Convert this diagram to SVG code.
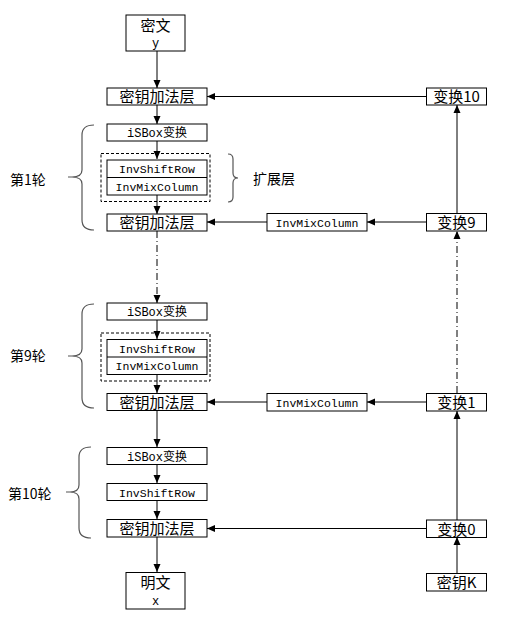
<svg xmlns="http://www.w3.org/2000/svg" width="523" height="624" viewBox="0 0 523 624">
<style>
.box{fill:#fff;stroke:#000;stroke-width:1}
.dash{fill:none;stroke:#000;stroke-width:1;stroke-dasharray:3,2}
.c{fill:none;stroke:#000;stroke-width:1}
.dd{fill:none;stroke:#000;stroke-width:1;stroke-dasharray:7,3,1,3}
.br{fill:none;stroke:#555;stroke-width:1.2}
.zh{font-family:"Noto Sans CJK SC",sans-serif;font-size:15px;fill:#000;text-anchor:middle}
.mx{font-family:"Liberation Mono","Noto Sans CJK SC",monospace;font-size:12px;fill:#000;text-anchor:middle}
.mx2{font-family:"Liberation Mono","Noto Sans CJK SC",monospace;font-size:11.5px;fill:#000;text-anchor:middle}
.lbl{font-family:"Noto Sans CJK SC",sans-serif;font-size:14px;fill:#000}
</style>
<defs>
<marker id="ah" viewBox="0 0 8 8" refX="8" refY="4" markerWidth="8" markerHeight="8" markerUnits="userSpaceOnUse" orient="auto">
<path d="M0,0.5 L8,4 L0,7.5 Z" fill="#000"/>
</marker>
</defs>

<g id="connectors">
<line class="c" x1="157" y1="51" x2="157" y2="88" marker-end="url(#ah)"/>
<line class="c" x1="157" y1="105" x2="157" y2="124" marker-end="url(#ah)"/>
<line class="c" x1="157" y1="141" x2="157" y2="159" marker-end="url(#ah)"/>
<line class="c" x1="157" y1="195" x2="157" y2="214" marker-end="url(#ah)"/>
<line class="dd" x1="157" y1="231" x2="157" y2="303" marker-end="url(#ah)"/>
<line class="c" x1="157" y1="320" x2="157" y2="339" marker-end="url(#ah)"/>
<line class="c" x1="157" y1="375" x2="157" y2="393" marker-end="url(#ah)"/>
<line class="c" x1="157" y1="411" x2="157" y2="447" marker-end="url(#ah)"/>
<line class="c" x1="157" y1="465" x2="157" y2="483" marker-end="url(#ah)"/>
<line class="c" x1="157" y1="501" x2="157" y2="519" marker-end="url(#ah)"/>
<line class="c" x1="157" y1="537" x2="157" y2="572" marker-end="url(#ah)"/>

<line class="c" x1="457" y1="573" x2="457" y2="537" marker-end="url(#ah)"/>
<line class="c" x1="457" y1="520" x2="457" y2="411" marker-end="url(#ah)"/>
<line class="dd" x1="457" y1="393" x2="457" y2="231" marker-end="url(#ah)"/>
<line class="c" x1="457" y1="213" x2="457" y2="105" marker-end="url(#ah)"/>

<line class="c" x1="426" y1="96.5" x2="207" y2="96.5" marker-end="url(#ah)"/>
<line class="c" x1="426" y1="222" x2="367" y2="222" marker-end="url(#ah)"/>
<line class="c" x1="267" y1="222" x2="207" y2="222" marker-end="url(#ah)"/>
<line class="c" x1="426" y1="402" x2="367" y2="402" marker-end="url(#ah)"/>
<line class="c" x1="267" y1="402" x2="207" y2="402" marker-end="url(#ah)"/>
<line class="c" x1="426" y1="528.5" x2="207" y2="528.5" marker-end="url(#ah)"/>
</g>

<g id="ciphertext">
<rect class="box" x="126" y="15" width="59" height="36"/>
<text class="zh" x="155.5" y="31">密文</text>
<text class="mx" x="155.5" y="47">y</text>
</g>

<g id="addkey0">
<rect class="box" x="107" y="88" width="100" height="17"/>
<text class="zh" x="157" y="102">密钥加法层</text>
</g>

<g id="round1-isbox">
<rect class="box" x="107" y="124" width="100" height="17"/>
<text class="mx" x="157" y="137">iSBox变换</text>
</g>
<g id="round1-ext">
<rect class="dash" x="101" y="153.5" width="109" height="48"/>
<rect class="box" x="107" y="160" width="100" height="35"/>
<line class="c" x1="107" y1="177.5" x2="207" y2="177.5"/>
<text class="mx2" x="157" y="173">InvShiftRow</text>
<text class="mx2" x="157" y="190.5">InvMixColumn</text>
</g>
<g id="round1-addkey">
<rect class="box" x="107" y="214" width="100" height="17"/>
<text class="zh" x="157" y="228">密钥加法层</text>
</g>

<g id="round9-isbox">
<rect class="box" x="107" y="303" width="100" height="17"/>
<text class="mx" x="157" y="316">iSBox变换</text>
</g>
<g id="round9-ext">
<rect class="dash" x="101" y="333" width="109" height="48"/>
<rect class="box" x="107" y="339.5" width="100" height="35"/>
<line class="c" x1="107" y1="357" x2="207" y2="357"/>
<text class="mx2" x="157" y="352.5">InvShiftRow</text>
<text class="mx2" x="157" y="370">InvMixColumn</text>
</g>
<g id="round9-addkey">
<rect class="box" x="107" y="393.5" width="100" height="17"/>
<text class="zh" x="157" y="407.5">密钥加法层</text>
</g>

<g id="round10-isbox">
<rect class="box" x="107" y="447.5" width="100" height="17"/>
<text class="mx" x="157" y="460.5">iSBox变换</text>
</g>
<g id="round10-shift">
<rect class="box" x="107" y="483.5" width="100" height="17"/>
<text class="mx2" x="157" y="496.5">InvShiftRow</text>
</g>
<g id="round10-addkey">
<rect class="box" x="107" y="519.5" width="100" height="17.5"/>
<text class="zh" x="157" y="534">密钥加法层</text>
</g>

<g id="plaintext">
<rect class="box" x="126" y="572.5" width="59" height="36.5"/>
<text class="zh" x="155.5" y="588">明文</text>
<text class="mx" x="155.5" y="605">x</text>
</g>

<g id="t10">
<rect class="box" x="426.5" y="88" width="60" height="17"/>
<text class="zh" x="456.5" y="102">变换10</text>
</g>
<g id="t9">
<rect class="box" x="426.5" y="213.5" width="60" height="17.5"/>
<text class="zh" x="456.5" y="228">变换9</text>
</g>
<g id="imc1">
<rect class="box" x="267" y="213.5" width="100" height="17.5"/>
<text class="mx2" x="317" y="226.5">InvMixColumn</text>
</g>
<g id="t1">
<rect class="box" x="426.5" y="393.5" width="60" height="17.5"/>
<text class="zh" x="456.5" y="408">变换1</text>
</g>
<g id="imc9">
<rect class="box" x="267" y="393.5" width="100" height="17.5"/>
<text class="mx2" x="317" y="406.5">InvMixColumn</text>
</g>
<g id="t0">
<rect class="box" x="426.5" y="520" width="60" height="17.5"/>
<text class="zh" x="456.5" y="534.5">变换0</text>
</g>
<g id="key">
<rect class="box" x="426.5" y="573.5" width="60" height="17.5"/>
<text class="zh" x="456.5" y="588">密钥K</text>
</g>

<g id="brace1">
<path class="br" d="M94,125 Q82,125 82,135 L82,170 Q82,177 72,177 L68,177 M72,177 Q82,177 82,184 L82,220 Q82,230 94,230"/>
<text class="lbl" x="10" y="185">第1轮</text>
</g>
<g id="brace-ext">
<path class="br" d="M228,154 Q233,154 233,159 L233,173 Q233,178 238,178 Q233,178 233,183 L233,197 Q233,202 228,202"/>
<text class="lbl" x="253" y="184">扩展层</text>
</g>
<g id="brace9">
<path class="br" d="M94,304 Q82,304 82,314 L82,349 Q82,356 72,356 L68,356 M72,356 Q82,356 82,363 L82,398 Q82,408 94,408"/>
<text class="lbl" x="10" y="361">第9轮</text>
</g>
<g id="brace10">
<path class="br" d="M91,447 Q79,447 79,457 L79,485 Q79,492 70,492 L66,492 M70,492 Q79,492 79,499 L79,528 Q79,538 91,538"/>
<text class="lbl" x="8" y="499">第10轮</text>
</g>
</svg>
